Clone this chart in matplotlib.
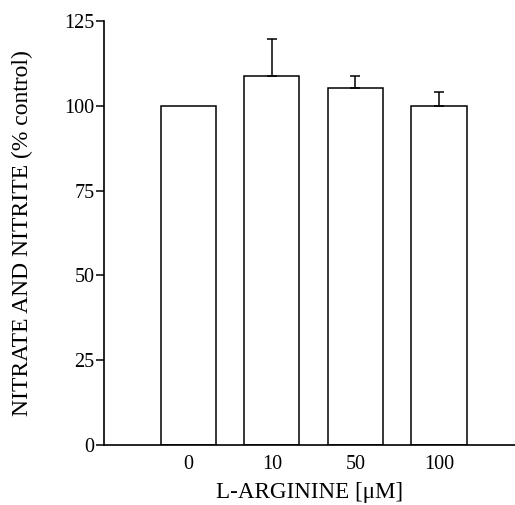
import matplotlib
matplotlib.use("Agg")
import matplotlib.pyplot as plt
import numpy as np

plt.rcParams["font.family"] = ["Liberation Serif", "DejaVu Serif"]

CONCENTRATIONS = ["0", "10", "50", "100"]
NOX_PCT = [100.0, 108.8, 105.2, 100.0]
NOX_ERR = [0.0, 11.0, 3.6, 4.2]  # control has no error bar
Y_TICKS = [0, 25, 50, 75, 100, 125]

fig = plt.figure(figsize=(5.15, 5.05), dpi=100)
ax = fig.add_axes([0.202, 0.119, 0.798, 0.839])

x = np.arange(len(CONCENTRATIONS))
vals = np.array(NOX_PCT)
errs = np.array(NOX_ERR)
ax.bar(x, vals, width=0.66, color="white", edgecolor="black", linewidth=1.1, zorder=2)

has_err = errs > 0
ax.errorbar(x[has_err], vals[has_err], yerr=[np.zeros(has_err.sum()), errs[has_err]],
            fmt="none", ecolor="black", elinewidth=1.1, capsize=3.3, capthick=1.1, zorder=3)

ax.set_xlim(-1.01, 3.91)
ax.set_ylim(0, 125)
ax.set_yticks(Y_TICKS)
ax.set_xticks(x)
ax.set_xticklabels(CONCENTRATIONS)

for side in ["top", "right"]:
    ax.spines[side].set_visible(False)
for side in ["left", "bottom"]:
    ax.spines[side].set_linewidth(1.2)

ax.tick_params(axis="y", direction="out", length=6, width=1.1, labelsize=14.5, pad=1)
ax.tick_params(axis="x", length=0, labelsize=14.5, pad=7)

ax.set_xlabel("L-ARGININE [\u03bcM]", fontsize=16.6, labelpad=6)
ax.set_ylabel("NITRATE AND NITRITE (% control)", fontsize=17, labelpad=22)

fig.savefig("out.png", dpi=100)
